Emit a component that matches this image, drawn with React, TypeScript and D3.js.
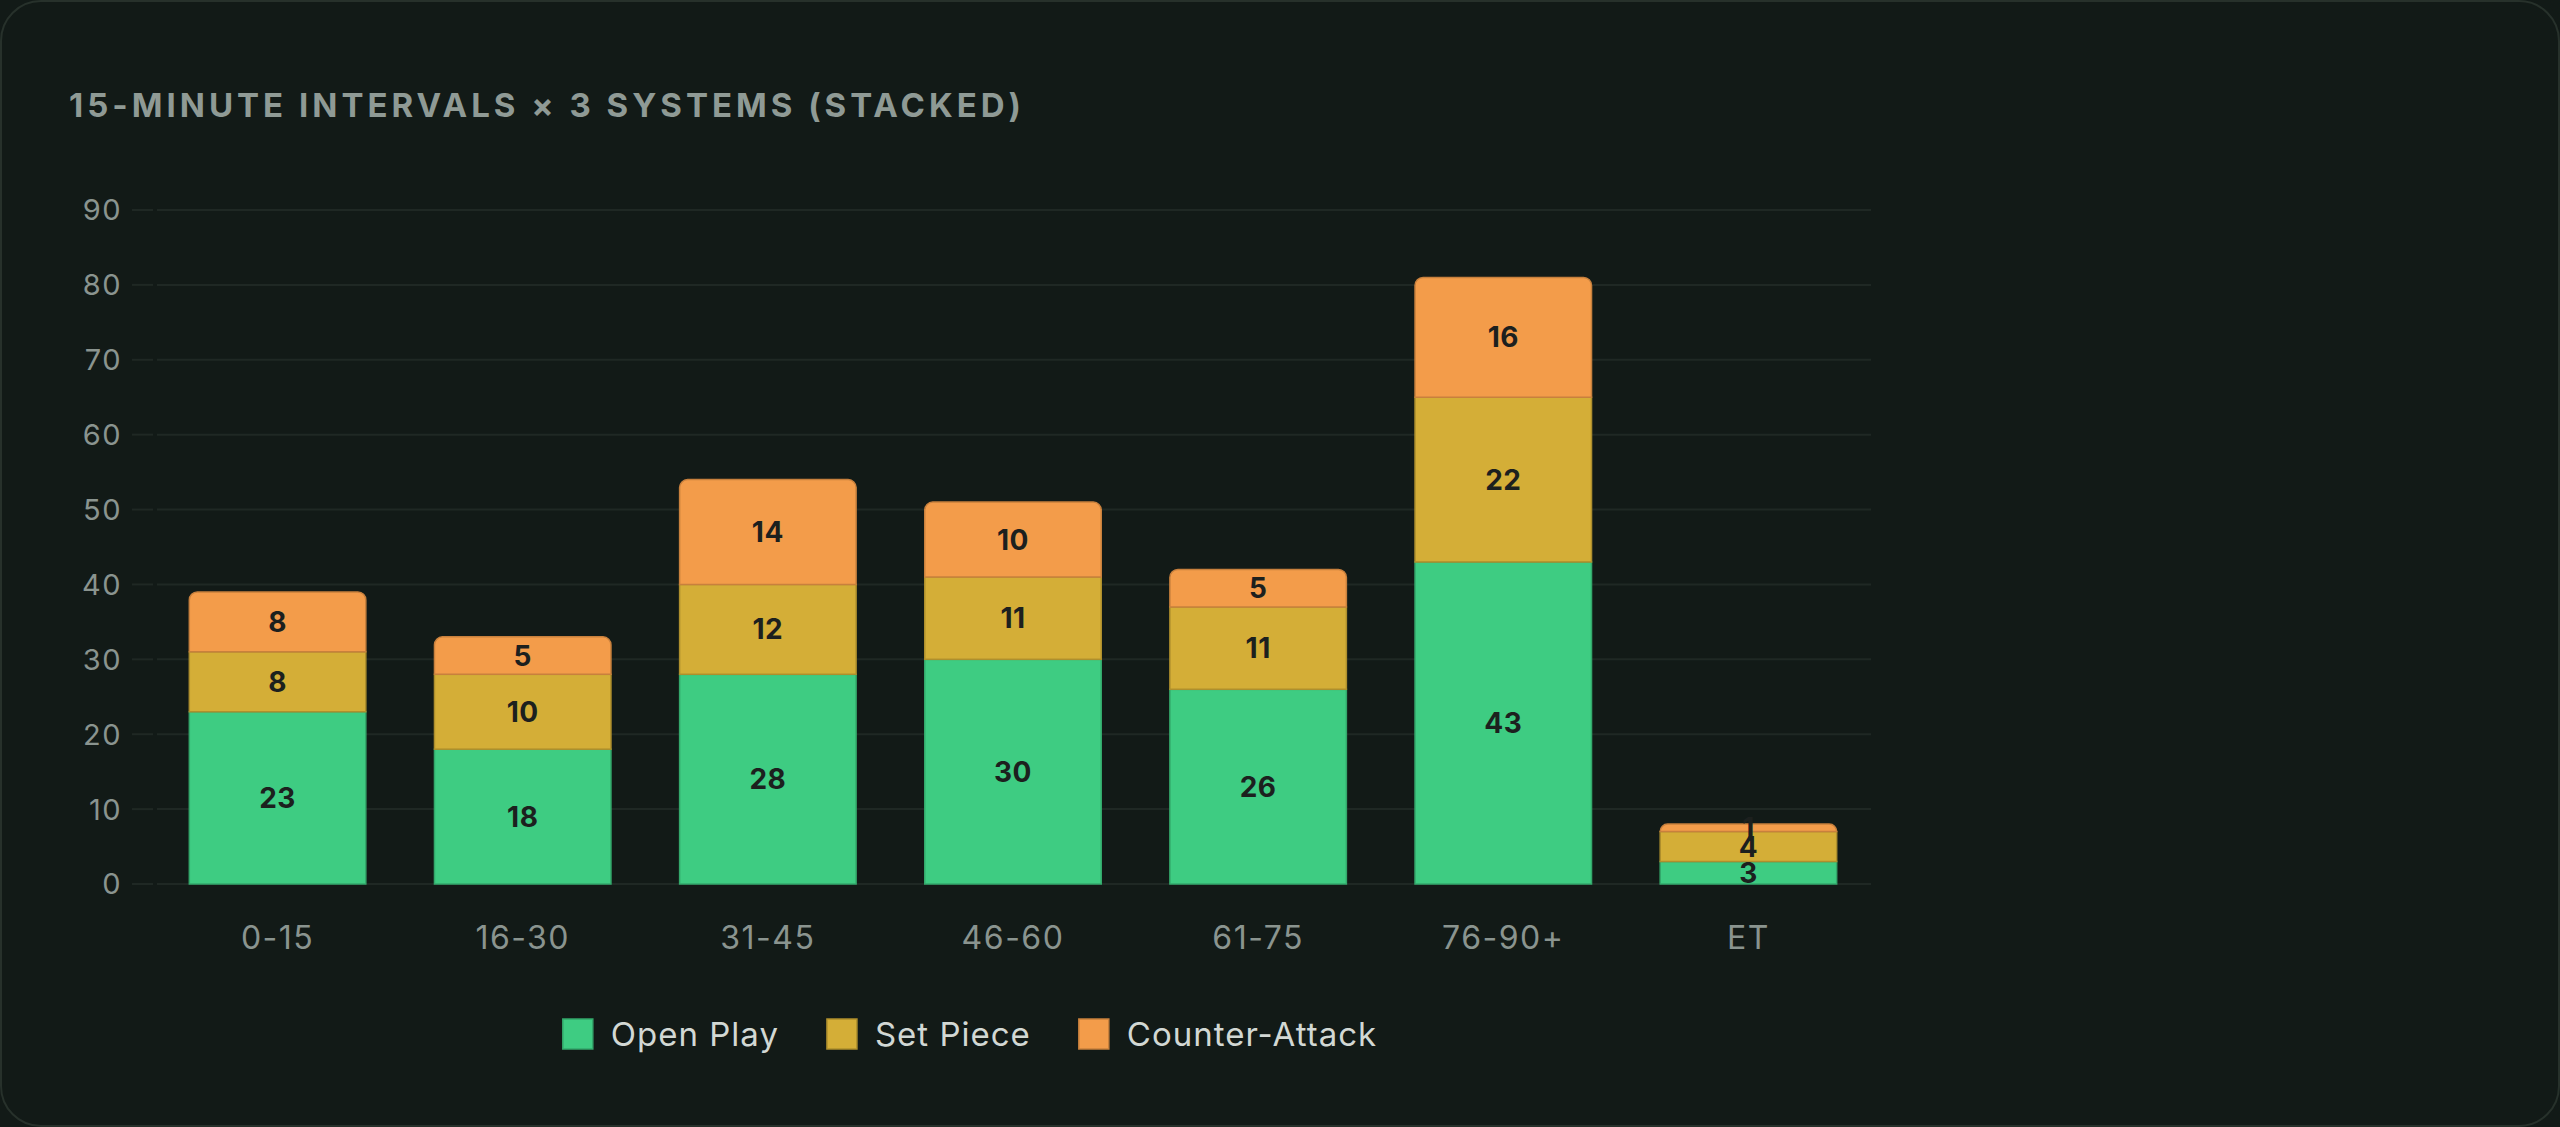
import React, { useEffect, useRef } from 'react';
import * as d3 from 'd3';

const title = '15-MINUTE INTERVALS × 3 SYSTEMS (STACKED)';
const categories = ['0-15', '16-30', '31-45', '46-60', '61-75', '76-90+', 'ET'];
const openPlay = [23, 18, 28, 30, 26, 43, 3];
const setPiece = [8, 10, 12, 11, 11, 22, 4];
const counterAttack = [8, 5, 14, 10, 5, 16, 1];
const seriesNames = ['Open Play', 'Set Piece', 'Counter-Attack'];
const seriesColors = ['#3ecc82', '#d4ae37', '#f39c4a'];
const yTicks = [0, 10, 20, 30, 40, 50, 60, 70, 80, 90];

const W = 2560;
const H = 1127;
const FONT = 'Inter, "Noto Sans", sans-serif';

function topRounded(x0: number, y0: number, w: number, h: number, r: number) {
  const rr = Math.min(r, w / 2, h);
  const p = d3.path();
  p.moveTo(x0, y0 + h);
  p.lineTo(x0, y0 + rr);
  p.arcTo(x0, y0, x0 + rr, y0, rr);
  p.lineTo(x0 + w - rr, y0);
  p.arcTo(x0 + w, y0, x0 + w, y0 + rr, rr);
  p.lineTo(x0 + w, y0 + h);
  p.closePath();
  return p.toString();
}

export default function App() {
  const ref = useRef<SVGSVGElement>(null);

  useEffect(() => {
    const svg = d3.select(ref.current);
    svg.selectAll('*').remove();

    svg.append('rect').attr('width', W).attr('height', H).attr('fill', '#121a17');
    svg
      .append('rect')
      .attr('x', 1)
      .attr('y', 1)
      .attr('width', W - 2)
      .attr('height', H - 2)
      .attr('rx', 40)
      .attr('fill', '#121a17')
      .attr('stroke', '#27312b')
      .attr('stroke-width', 2);

    svg
      .append('text')
      .attr('x', 69)
      .attr('y', 117)
      .attr('font-family', FONT)
      .attr('font-weight', 700)
      .attr('font-size', 33)
      .attr('letter-spacing', '4px')
      .attr('fill', '#8f9a95')
      .text(title);

    const x = d3.scaleBand<string>().domain(categories).range([155, 1871]).paddingInner(0.28).paddingOuter(0.14);
    const y = d3.scaleLinear().domain([0, 90]).range([884, 210]);

    // grid + ticks
    const grid = svg.append('g');
    yTicks.forEach((t) => {
      grid
        .append('line')
        .attr('x1', 132)
        .attr('x2', 153)
        .attr('y1', y(t))
        .attr('y2', y(t))
        .attr('stroke', '#1f2824')
        .attr('stroke-width', 2);
      grid
        .append('line')
        .attr('x1', 157)
        .attr('x2', 1871)
        .attr('y1', y(t))
        .attr('y2', y(t))
        .attr('stroke', '#1f2824')
        .attr('stroke-width', 2);
      grid
        .append('text')
        .attr('x', 122)
        .attr('y', y(t))
        .attr('dy', '0.36em')
        .attr('text-anchor', 'end')
        .attr('font-family', FONT)
        .attr('font-size', 29)
        .attr('letter-spacing', '1.5px')
        .attr('fill', '#8a948f')
        .text(String(t));
    });

    // x labels
    categories.forEach((c) => {
      svg
        .append('text')
        .attr('x', (x(c) as number) + x.bandwidth() / 2)
        .attr('y', 949)
        .attr('text-anchor', 'middle')
        .attr('font-family', FONT)
        .attr('font-size', 32)
        .attr('letter-spacing', '1.5px')
        .attr('fill', '#8a948f')
        .text(c);
    });

    const rows = categories.map((c, i) => ({
      category: c,
      'Open Play': openPlay[i],
      'Set Piece': setPiece[i],
      'Counter-Attack': counterAttack[i],
    }));
    const stack = d3.stack<any>().keys(seriesNames)(rows);

    const bars = svg.append('g');
    stack.forEach((layer, li) => {
      const color = seriesColors[li];
      const stroke = (d3.color(color) as d3.RGBColor).darker(0.55).formatHex();
      const isTop = li === stack.length - 1;
      layer.forEach((d) => {
        const cx = x(d.data.category) as number;
        const bw = x.bandwidth();
        const y0 = y(d[1]);
        const h = y(d[0]) - y(d[1]);
        if (isTop) {
          bars
            .append('path')
            .attr('d', topRounded(cx, y0, bw, h, 8))
            .attr('fill', color)
            .attr('stroke', stroke)
            .attr('stroke-width', 1.5);
        } else {
          bars
            .append('rect')
            .attr('x', cx)
            .attr('y', y0)
            .attr('width', bw)
            .attr('height', h)
            .attr('fill', color)
            .attr('stroke', stroke)
            .attr('stroke-width', 1.5);
        }
      });
    });

    // value labels
    stack.forEach((layer) => {
      layer.forEach((d) => {
        const v = d[1] - d[0];
        svg
          .append('text')
          .attr('x', (x(d.data.category) as number) + x.bandwidth() / 2)
          .attr('y', (y(d[0]) + y(d[1])) / 2)
          .attr('dy', '0.36em')
          .attr('text-anchor', 'middle')
          .attr('font-family', FONT)
          .attr('font-weight', 700)
          .attr('font-size', 28)
          .attr('letter-spacing', '0.5px')
          .attr('fill', '#1c201e')
          .text(String(v));
      });
    });

    // legend
    const leg = svg.append('g');
    const items = seriesNames.map((name, i) => {
      const g = leg.append('g');
      g.append('rect').attr('x', 0).attr('y', 1019).attr('width', 30).attr('height', 30).attr('fill', seriesColors[i])
        .attr('stroke', (d3.color(seriesColors[i]) as d3.RGBColor).darker(0.55).formatHex()).attr('stroke-width', 1.5);
      const t = g
        .append('text')
        .attr('x', 48)
        .attr('y', 1034)
        .attr('dy', '0.36em')
        .attr('font-family', FONT)
        .attr('font-size', 33)
        .attr('letter-spacing', '1px')
        .attr('fill', '#d2d8d4')
        .text(name);
      const tw = (t.node() as SVGTextElement).getComputedTextLength();
      return { g, w: 48 + tw };
    });
    const gap = 48;
    const total = items.reduce((s, it) => s + it.w, 0) + gap * (items.length - 1);
    let cur = 970 - total / 2;
    items.forEach((it) => {
      it.g.attr('transform', `translate(${cur},0)`);
      cur += it.w + gap;
    });
  }, []);

  return (
    <svg
      ref={ref}
      width={W}
      height={H}
      style={{ position: 'absolute', left: 0, top: 0, display: 'block' }}
    />
  );
}
